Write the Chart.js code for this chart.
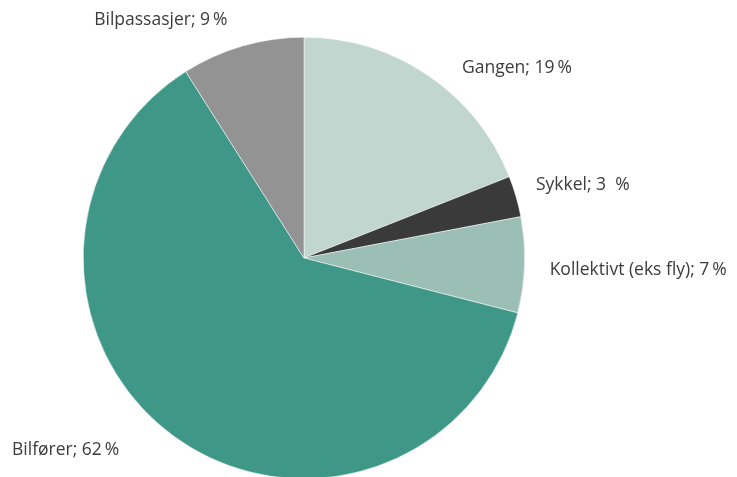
<!DOCTYPE html>
<html>
<head>
<meta charset="utf-8">
<script src="https://cdn.jsdelivr.net/npm/chart.js@4/dist/chart.umd.min.js"></script>
<style>
  html, body { margin: 0; padding: 0; background: #fff; overflow: hidden; }
  #wrap { width: 737px; height: 477px; overflow: hidden; }
</style>
</head>
<body>
<div id="wrap"><canvas id="myChart" width="737" height="480"></canvas></div>
<script>
const categories = ["Gangen", "Sykkel", "Kollektivt (eks fly)", "Bilfører", "Bilpassasjer"];
const shares = [19, 3, 7, 62, 9];
const labels = ["Gangen; 19\u2009%", "Sykkel; 3  %", "Kollektivt (eks fly); 7\u2009%", "Bilfører; 62\u2009%", "Bilpassasjer; 9\u2009%"];
const colors = ["#c0d6ce", "#3a3a3a", "#9bbfb4", "#3f9887", "#939393"];

// where each label sits, relative to the middle of its slice's outer edge
const labelOffsets = [
  { dx: 34, dy: -7, align: "left" },
  { dx: 20, dy: -11, align: "left" },
  { dx: 25, dy: 5, align: "left" },
  { dx: -55, dy: 13, align: "right" },
  { dx: -15, dy: -26, align: "right" },
];

const sliceLabels = {
  id: "sliceLabels",
  afterDatasetsDraw(chart) {
    const ctx = chart.ctx;
    const arcs = chart.getDatasetMeta(0).data;
    ctx.save();
    ctx.font = "17.5px 'Open Sans'";
    ctx.fillStyle = "#3c3c3c";
    ctx.textBaseline = "middle";
    arcs.forEach((arc, i) => {
      const mid = (arc.startAngle + arc.endAngle) / 2;
      const x = arc.x + Math.cos(mid) * arc.outerRadius + labelOffsets[i].dx;
      const y = arc.y + Math.sin(mid) * arc.outerRadius + labelOffsets[i].dy;
      ctx.textAlign = labelOffsets[i].align;
      ctx.fillText(labels[i], x, y);
    });
    ctx.restore();
  },
};

const myChart = document.querySelector("#myChart").getContext("2d");

new Chart(myChart, {
  type: "pie",
  data: {
    labels: categories,
    datasets: [
      {
        data: shares,
        backgroundColor: colors,
        borderColor: "#ffffff",
        borderWidth: 0.5,
      },
    ],
  },
  options: {
    responsive: false,
    animation: false,
    layout: {
      padding: { left: 83, right: 212, top: 37, bottom: 1 },
    },
    plugins: {
      legend: { display: false },
      tooltip: { enabled: false },
    },
  },
  plugins: [sliceLabels],
});
</script>
</body>
</html>
